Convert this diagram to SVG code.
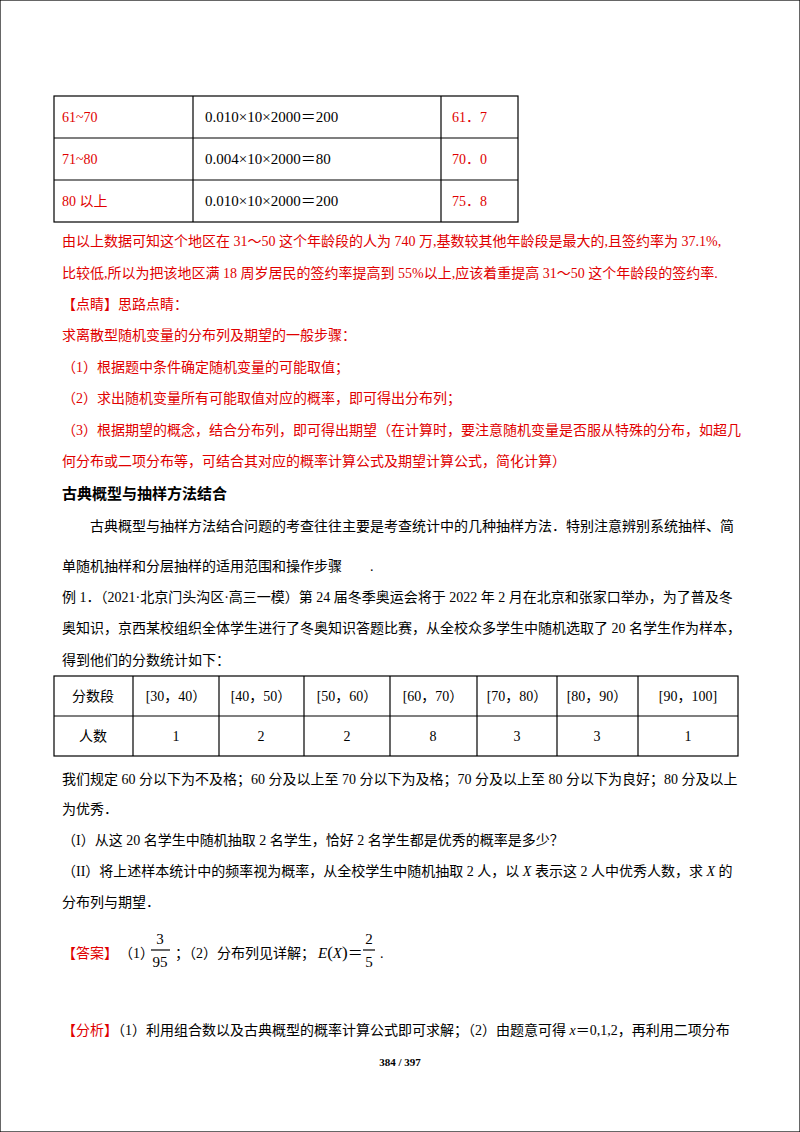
<svg xmlns="http://www.w3.org/2000/svg" width="800" height="1132" viewBox="0 0 800 1132">
<style>
text{font-family:"Liberation Serif","Noto Sans CJK SC",serif;font-size:14px;fill:#000}
.r{fill:#e00000}
.b{font-weight:bold}
.c{text-anchor:middle}
line,rect{stroke:#000;stroke-width:1.2;fill:none}
.i{font-style:italic}
</style>
<rect width="800" height="1132" fill="#fff" stroke="none"/>
<g id="table1">
<rect x="54" y="96" width="464" height="126"/>
<line x1="54" y1="138" x2="518" y2="138"/><line x1="54" y1="180" x2="518" y2="180"/>
<line x1="193" y1="96" x2="193" y2="222"/><line x1="441" y1="96" x2="441" y2="222"/>
<text x="62" y="122" class="r">61~70</text><text x="205" y="122" style="font-size:15px">0.010×10×2000＝200</text><text x="452" y="122" class="r">61．7</text>
<text x="62" y="164" class="r">71~80</text><text x="205" y="164" style="font-size:15px">0.004×10×2000＝80</text><text x="452" y="164" class="r">70．0</text>
<text x="62" y="206" class="r">80 以上</text><text x="205" y="206" style="font-size:15px">0.010×10×2000＝200</text><text x="452" y="206" class="r">75．8</text>
</g>
<g id="text1">
<text x="62" y="246" class="r">由以上数据可知这个地区在 31～50 这个年龄段的人为 740 万,基数较其他年龄段是最大的,且签约率为 37.1%,</text>
<text x="62" y="278" class="r">比较低,所以为把该地区满 18 周岁居民的签约率提高到 55%以上,应该着重提高 31～50 这个年龄段的签约率.</text>
<text x="62" y="309" class="r">【点睛】思路点睛：</text>
<text x="62" y="340" class="r">求离散型随机变量的分布列及期望的一般步骤：</text>
<text x="62" y="372" class="r">（1）根据题中条件确定随机变量的可能取值；</text>
<text x="62" y="403" class="r">（2）求出随机变量所有可能取值对应的概率，即可得出分布列；</text>
<text x="62" y="435" class="r">（3）根据期望的概念，结合分布列，即可得出期望（在计算时，要注意随机变量是否服从特殊的分布，如超几</text>
<text x="62" y="466" class="r">何分布或二项分布等，可结合其对应的概率计算公式及期望计算公式，简化计算）</text>
<text x="62" y="499" class="b" style="font-size:15px">古典概型与抽样方法结合</text>
<text x="90" y="531">古典概型与抽样方法结合问题的考查往往主要是考查统计中的几种抽样方法．特别注意辨别系统抽样、简</text>
<text x="62" y="571">单随机抽样和分层抽样的适用范围和操作步骤　　.</text>
<text x="62" y="602">例 1．（2021·北京门头沟区·高三一模）第 24 届冬季奥运会将于 2022 年 2 月在北京和张家口举办，为了普及冬</text>
<text x="62" y="633">奥知识，京西某校组织全体学生进行了冬奥知识答题比赛，从全校众多学生中随机选取了 20 名学生作为样本，</text>
<text x="62" y="665">得到他们的分数统计如下：</text>
</g>
<g id="table2">
<rect x="54" y="676" width="684" height="80"/>
<line x1="54" y1="716" x2="738" y2="716"/>
<line x1="133" y1="676" x2="133" y2="756"/><line x1="219" y1="676" x2="219" y2="756"/><line x1="304" y1="676" x2="304" y2="756"/><line x1="390" y1="676" x2="390" y2="756"/><line x1="477" y1="676" x2="477" y2="756"/><line x1="557" y1="676" x2="557" y2="756"/><line x1="638" y1="676" x2="638" y2="756"/>
<text x="93" y="701" class="c">分数段</text><text x="176" y="701" class="c">[30，40）</text><text x="261" y="701" class="c">[40，50）</text><text x="347" y="701" class="c">[50，60）</text><text x="433" y="701" class="c">[60，70）</text><text x="517" y="701" class="c">[70，80）</text><text x="597" y="701" class="c">[80，90）</text><text x="688" y="701" class="c">[90，100]</text>
<text x="93" y="741" class="c">人数</text><text x="176" y="741" class="c">1</text><text x="261" y="741" class="c">2</text><text x="347" y="741" class="c">2</text><text x="433" y="741" class="c">8</text><text x="517" y="741" class="c">3</text><text x="597" y="741" class="c">3</text><text x="688" y="741" class="c">1</text>
</g>
<g id="text2">
<text x="62" y="784">我们规定 60 分以下为不及格；60 分及以上至 70 分以下为及格；70 分及以上至 80 分以下为良好；80 分及以上</text>
<text x="62" y="814">为优秀．</text>
<text x="62" y="845">（I）从这 20 名学生中随机抽取 2 名学生，恰好 2 名学生都是优秀的概率是多少？</text>
<text x="62" y="876">（II）将上述样本统计中的频率视为概率，从全校学生中随机抽取 2 人，以 <tspan class="i">X</tspan> 表示这 2 人中优秀人数，求 <tspan class="i">X</tspan> 的</text>
<text x="62" y="907">分布列与期望．</text>
<text x="62" y="958" class="r">【答案】</text>
<text x="119" y="958">（1）</text>
<text x="160" y="944" class="c" style="font-size:15px">3</text><line x1="151" y1="950" x2="170" y2="950" stroke-width="0.8"/><text x="160" y="967" class="c" style="font-size:15px">95</text>
<text x="175" y="958">；（2）分布列见详解；</text>
<text x="318" y="958"><tspan class="i" style="font-size:15px">E</tspan><tspan style="font-size:17px">(</tspan><tspan class="i" style="font-size:15px">X</tspan><tspan style="font-size:17px">)</tspan><tspan style="font-size:15px">＝</tspan></text>
<text x="369" y="944" class="c" style="font-size:15px">2</text><line x1="363" y1="950" x2="375" y2="950" stroke-width="0.8"/><text x="369" y="967" class="c" style="font-size:15px">5</text>
<text x="380" y="958">.</text>
<text x="62" y="1035"><tspan class="r">【分析】</tspan>（1）利用组合数以及古典概型的概率计算公式即可求解；（2）由题意可得 <tspan class="i">x</tspan>＝0,1,2，再利用二项分布</text>
</g>
<text x="400" y="1066" class="c b" style="font-size:11px">384 / 397</text>
</svg>
